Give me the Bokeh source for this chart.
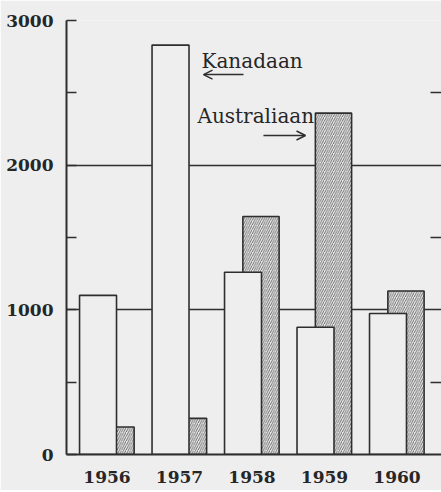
from bokeh.plotting import figure
from bokeh.models import (Range1d, FixedTicker, LinearAxis, Label, Arrow, OpenHead,
                          ColumnDataSource)
from bokeh.transform import dodge
from bokeh.embed import file_html
from bokeh.resources import INLINE

# ---- data ----
years = [1956, 1957, 1958, 1959, 1960]
kanadaan = [1100, 2830, 1260, 880, 975]
australiaan = [190, 250, 1645, 2360, 1130]
y_ticks = [0, 1000, 2000, 3000]
y_minor = [500, 1500, 2500]
grid_ticks = [1000, 2000, 3000]
series_names = ["Kanadaan", "Australiaan"]

src = ColumnDataSource(dict(year=years, kan=kanadaan, aus=australiaan))

BG = "#eeeeee"
INK = "#2e2e2e"
TXT = "#262626"
FONT = "DejaVu Serif"

p = figure(width=441, height=490, output_backend="svg", toolbar_location=None,
           x_range=Range1d(1955.441, 1960.614), y_range=Range1d(0, 3000),
           min_border_left=66, min_border_top=20, min_border_bottom=36,
           min_border_right=0,
           background_fill_color=BG, border_fill_color=BG, outline_line_color=None)

# hatched (Australiaan) behind, white (Kanadaan) in front
p.vbar(x=dodge("year", 0.124), top="aus", width=0.50, source=src,
       fill_color=BG, line_color=INK, line_width=1.6,
       hatch_pattern="right_diagonal_line", hatch_color="#5a5a5a",
       hatch_scale=4.5, hatch_weight=0.9)
p.vbar(x=dodge("year", -0.124), top="kan", width=0.51, source=src,
       fill_color=BG, line_color=INK, line_width=1.6)

# grid
p.xgrid.visible = False
p.ygrid.ticker = FixedTicker(ticks=grid_ticks)
p.ygrid.grid_line_color = INK
p.ygrid.grid_line_width = 1.6
p.ygrid.grid_line_alpha = 1.0

# y axis
p.yaxis.ticker = FixedTicker(ticks=y_ticks, minor_ticks=y_minor)
p.yaxis.major_tick_in = 10
p.yaxis.major_tick_out = 0
p.yaxis.minor_tick_in = 10
p.yaxis.minor_tick_out = 0
p.yaxis.major_tick_line_color = INK
p.yaxis.minor_tick_line_color = INK
p.yaxis.major_tick_line_width = 1.5
p.yaxis.minor_tick_line_width = 1.5
p.yaxis.axis_line_color = INK
p.yaxis.axis_line_width = 2
p.yaxis.major_label_standoff = 13
p.yaxis.major_label_text_font = FONT
p.yaxis.major_label_text_font_style = "bold"
p.yaxis.major_label_text_font_size = "17px"
p.yaxis.major_label_text_color = TXT

# x axis
p.xaxis.ticker = FixedTicker(ticks=years)
p.xaxis.major_tick_in = 0
p.xaxis.major_tick_out = 0
p.xaxis.minor_tick_line_color = None
p.xaxis.axis_line_color = INK
p.xaxis.axis_line_width = 2
p.xaxis.major_label_standoff = 16
p.xaxis.major_label_text_font = FONT
p.xaxis.major_label_text_font_style = "bold"
p.xaxis.major_label_text_font_size = "17px"
p.xaxis.major_label_text_color = TXT

# right side inward ticks (no labels)
rax = LinearAxis(ticker=FixedTicker(ticks=y_minor), major_tick_in=11, major_tick_out=0,
                 axis_line_color=None, major_tick_line_color=INK, major_tick_line_width=1.5,
                 minor_tick_line_color=None, major_label_standoff=0,
                 major_label_overrides={t: "" for t in y_minor})
p.add_layout(rax, "right")

# annotations
p.add_layout(Label(x=1957.303, y=2723, text=series_names[0], text_font=FONT,
                   text_font_size="20px", text_color=TXT,
                   text_baseline="alphabetic"))
p.add_layout(Label(x=1957.248, y=2343, text=series_names[1], text_font=FONT,
                   text_font_size="20px", text_color=TXT,
                   text_baseline="alphabetic"))
p.add_layout(Arrow(end=OpenHead(size=9, line_width=1.5, line_color=INK),
                   x_start=1957.883, y_start=2626, x_end=1957.331, y_end=2626,
                   line_width=1.5, line_color=INK))
p.add_layout(Arrow(end=OpenHead(size=9, line_width=1.5, line_color=INK),
                   x_start=1958.158, y_start=2205, x_end=1958.738, y_end=2205,
                   line_width=1.5, line_color=INK))

open("out.html", "w").write(file_html(p, INLINE))
